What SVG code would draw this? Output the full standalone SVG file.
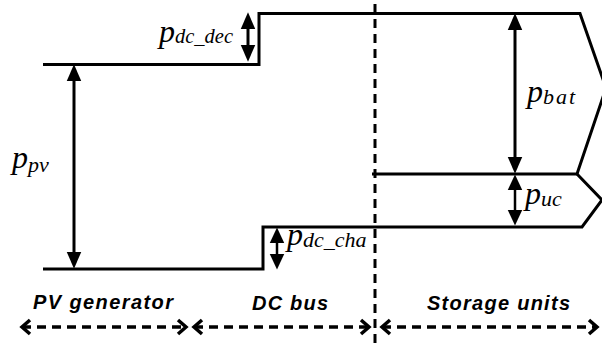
<svg xmlns="http://www.w3.org/2000/svg" width="602" height="347" viewBox="0 0 602 347">
<style>
.ol{fill:none;stroke:#000;stroke-width:3;stroke-linejoin:miter}
.arr{stroke:#000;stroke-width:3;marker-start:url(#ah);marker-end:url(#ah)}
.arrs{stroke:#000;stroke-width:2.5;marker-start:url(#ahs);marker-end:url(#ahs)}
.dash{fill:none;stroke:#000;stroke-width:3;stroke-dasharray:9 6}
.darr{fill:none;stroke:#000;stroke-width:3.5;stroke-dasharray:9 6;marker-start:url(#ch);marker-end:url(#ch)}
.sym{font-family:"Liberation Serif","Times New Roman",serif;font-style:italic;fill:#000}
.sym .m{font-size:32px}
.sym .s{font-size:22px}
.lab{font-family:"Liberation Sans",Arial,sans-serif;font-weight:bold;font-style:italic;font-size:20px;fill:#000}
</style>
<defs>
<marker id="ah" markerUnits="userSpaceOnUse" markerWidth="20" markerHeight="20" refX="0" refY="0" viewBox="-1 -8 18 16" orient="auto-start-reverse" overflow="visible">
<path d="M0,-6.5 L15,0 L0,6.5 Z" fill="#000"/>
</marker>
<marker id="ahs" markerUnits="userSpaceOnUse" markerWidth="20" markerHeight="20" refX="0" refY="0" viewBox="-1 -8 18 16" orient="auto-start-reverse" overflow="visible">
<path d="M0,-6.5 L14,0 L0,6.5 Z" fill="#000"/>
</marker>
<marker id="ch" markerUnits="userSpaceOnUse" markerWidth="20" markerHeight="20" refX="0" refY="0" viewBox="-12 -10 14 20" orient="auto-start-reverse" overflow="visible">
<path d="M-8,-7 L0,0 L-8,7" fill="none" stroke="#000" stroke-width="3.5" stroke-dasharray="none"/>
</marker>
</defs>
<g id="pv-generator">
<path class="ol" d="M43,64.5 H259 V13.5 H580 L606,88 L577,174 H372"/>
</g>
<g id="storage-uc">
<path class="ol" d="M577,174 L602,200 L582,227 H263 V269 H43"/>
</g>
<g id="divider">
<line class="dash" x1="375" y1="4" x2="375" y2="347"/>
</g>
<g id="connectors">
<line class="arr" x1="74" y1="81" x2="74" y2="252"/>
<line class="arr" x1="248" y1="29" x2="248" y2="45"/>
<line class="arr" x1="515" y1="30" x2="515" y2="157"/>
<line class="arrs" x1="515" y1="190" x2="515" y2="210"/>
<line class="arrs" x1="277" y1="243" x2="277" y2="254"/>
<line class="darr" x1="22" y1="327" x2="186" y2="327"/>
<line class="darr" x1="194" y1="327" x2="369" y2="327"/>
<line class="darr" x1="382" y1="327" x2="597" y2="327"/>
</g>
<g id="labels">
<text class="sym" x="12" y="168"><tspan class="m">p</tspan><tspan class="s" dy="4">pv</tspan></text>
<text class="sym" x="159" y="42"><tspan class="m">p</tspan><tspan class="s" dy="1" textLength="58" lengthAdjust="spacingAndGlyphs">dc_dec</tspan></text>
<text class="sym" x="287" y="245"><tspan class="m">p</tspan><tspan class="s" dy="2">dc_cha</tspan></text>
<text class="sym" x="527" y="102"><tspan class="m">p</tspan><tspan class="s" dy="2" textLength="32" lengthAdjust="spacing">bat</tspan></text>
<text class="sym" x="525" y="204"><tspan class="m">p</tspan><tspan class="s" dy="2">uc</tspan></text>
<text class="lab" x="33" y="309" textLength="140" lengthAdjust="spacing">PV generator</text>
<text class="lab" x="252" y="310" textLength="76" lengthAdjust="spacing">DC bus</text>
<text class="lab" x="427" y="310" textLength="143" lengthAdjust="spacing">Storage units</text>
</g>
</svg>
